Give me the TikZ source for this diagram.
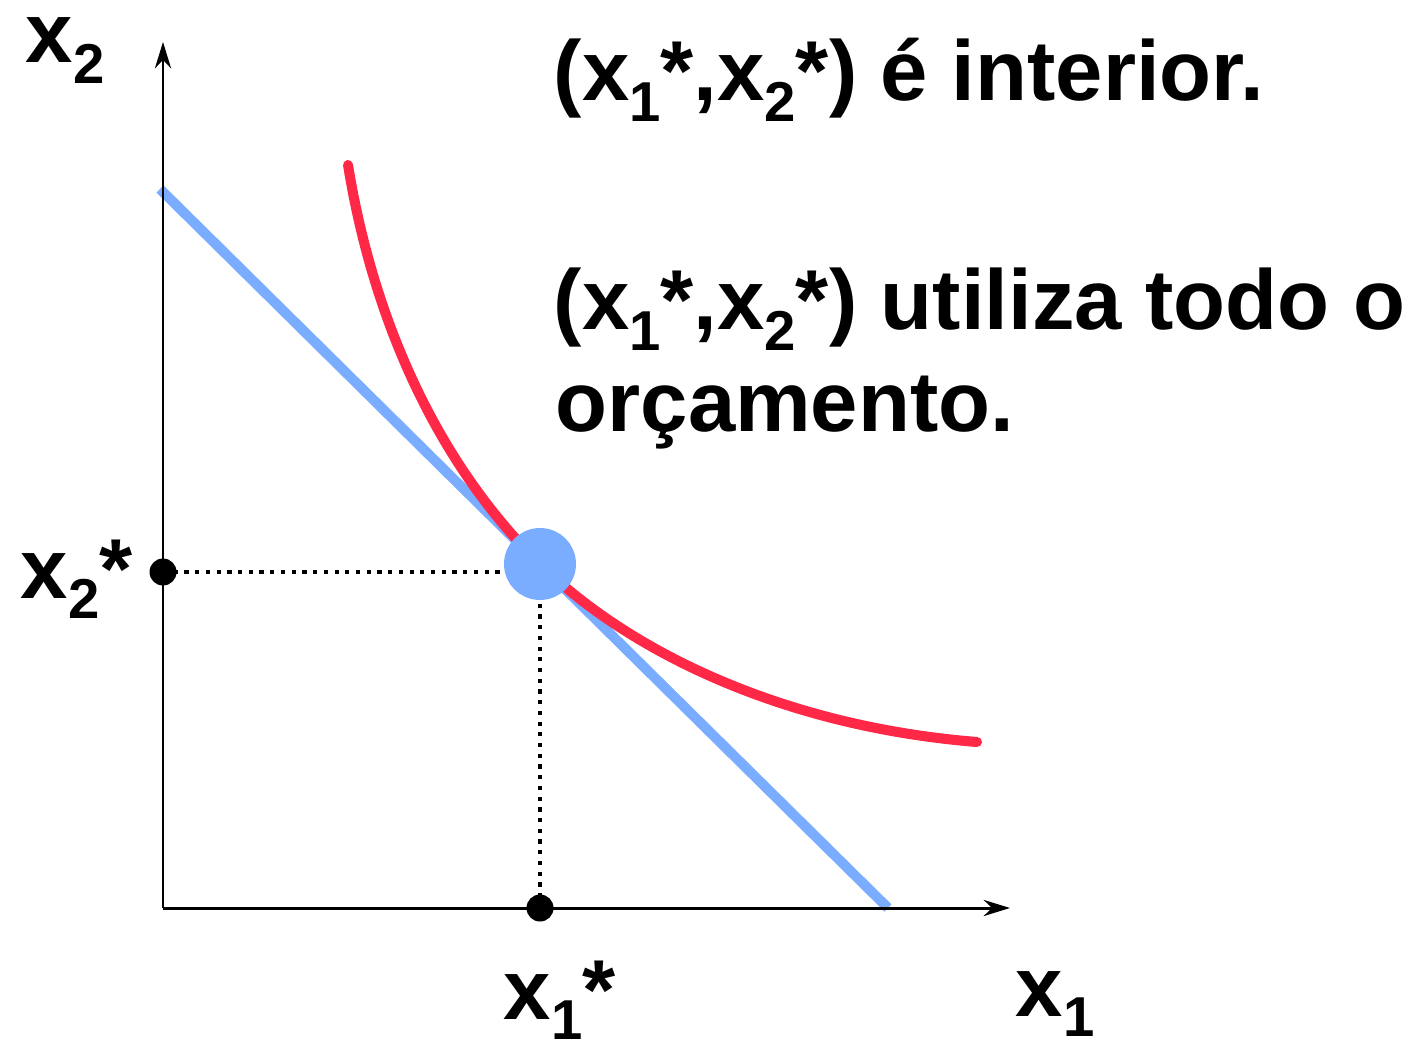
\documentclass[tikz,border=0pt]{standalone}
\usepackage{fontspec}
\setmainfont{Liberation Sans}
\usepackage{xcolor}
\usetikzlibrary{arrows.meta}
\definecolor{budgetblue}{RGB}{122,172,255}
\definecolor{curvered}{RGB}{255,40,70}
\newcommand{\lowidx}[1]{\raisebox{-0.24em}{\fontsize{16}{16}\selectfont #1}}

\begin{document}
\begin{tikzpicture}[>={Stealth[length=7.5pt,width=4.6pt,inset=2.4pt]},
  axis/.style={line width=0.85pt,->},
  budget/.style={line width=2.85pt,budgetblue},
  indiff/.style={line width=2.85pt,curvered,line cap=round},
  guide/.style={line width=1.3pt,dash pattern=on 1.2pt off 1.85pt},
  pt/.style={circle,fill=black,inner sep=0pt,minimum size=2.7mm},
  lbl/.style={font=\fontsize{24.2}{29}\selectfont\bfseries,inner sep=0pt,anchor=base west}]
\useasboundingbox (-1.63,-1.34) rectangle (12.55,9.08);
\coordinate (O) at (0,0);
\coordinate (xend) at (8.47,0);
\coordinate (yend) at (0,8.66);
\coordinate (bTop) at (-0.03,7.19);
\coordinate (bBot) at (7.25,0);
\coordinate (opt) at (3.77,3.44);
\coordinate (xs) at (3.77,0);
\coordinate (ys) at (0,3.36);
\draw[guide] (ys) -- (ys -| opt);
\draw[guide] (xs) -- (opt);
\draw[budget] (bTop) -- (bBot);
\draw[axis] (O) -- (xend);
\draw[axis] (O) -- (yend);
\draw[indiff] (1.85,7.43) .. controls (2.09,5.95) and (2.70,4.49) .. (opt)
  .. controls (4.62,2.60) and (6.15,1.82) .. (8.14,1.66);
\node[pt] (x1dot) at (xs) {};
\node[pt] (x2dot) at (ys) {};
\node[circle,fill=budgetblue,minimum size=7.2mm,inner sep=0pt] (optdot) at (opt) {};
\node[lbl] (x2lab) at (-1.38,8.45) {x\lowidx{2}};
\node[lbl] (x2slab) at (-1.43,3.10) {x\lowidx{2}*};
\node[lbl] (x1slab) at (3.40,-1.11) {x\lowidx{1}*};
\node[lbl] (x1lab) at (8.52,-1.08) {x\lowidx{1}};
\node[lbl] (interior) at (3.90,8.07) {(x\lowidx{1}*,x\lowidx{2}*) é interior.};
\node[lbl] (useall) at (3.90,5.78) {(x\lowidx{1}*,x\lowidx{2}*) utiliza todo o};
\node[lbl] (useall2) at (3.92,4.76) {orçamento.};
\end{tikzpicture}
\end{document}
